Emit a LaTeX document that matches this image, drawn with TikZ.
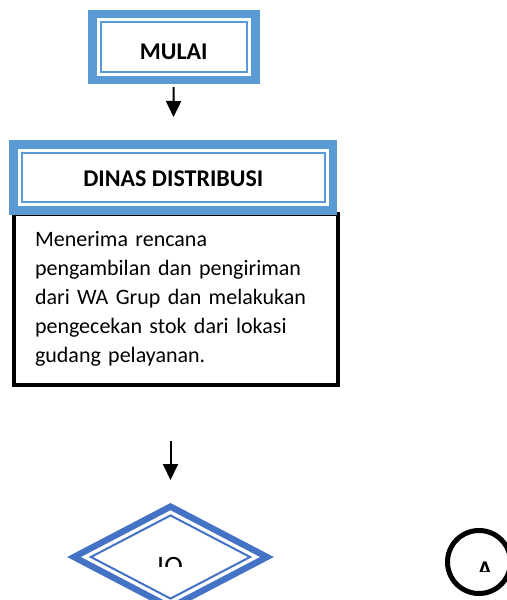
\documentclass[tikz,border=0pt]{standalone}
\usepackage{fontspec}
\setmainfont{Carlito}
\usetikzlibrary{arrows.meta,shapes.geometric,positioning}

\definecolor{boxblue}{HTML}{5B9BD5}
\definecolor{decblue}{HTML}{4472C4}

\begin{document}
\begin{tikzpicture}[x=0.5pt,y=-0.5pt,
    font=\fontsize{12}{14.5}\selectfont,
    judul/.style={fill=white, draw=boxblue, line width=1pt, inner sep=0pt,
        preaction={draw=boxblue, line width=12.5pt},
        preaction={draw=white, line width=4pt},
        font=\fontsize{12}{14.5}\selectfont\bfseries},
    isi/.style={draw=black, fill=white, line width=2pt, align=left,
        text width=141pt, inner xsep=10.5pt, inner ysep=0pt,
        minimum width=162pt, minimum height=85.25pt, anchor=north west,
        font=\fontsize{11}{14.5}\selectfont},
    keputusan/.style={diamond, fill=white, draw=decblue, line width=1pt, inner sep=0pt,
        minimum width=80pt, minimum height=42pt,
        preaction={draw=decblue, line width=11pt},
        preaction={draw=white, line width=4.5pt}},
    konektor/.style={circle, draw=black, line width=2.5pt, inner sep=0pt, minimum size=31.5pt},
    panah/.style={-{Triangle[width=7.5pt,length=8pt]}, line width=1pt}]
    \useasboundingbox (0,0) rectangle (507,600);
    \clip (0,0) rectangle (507,600);

    % kotak proses
    \node[isi] (isi) at (12,212) {Menerima rencana\\pengambilan dan pengiriman\\dari WA Grup dan melakukan\\pengecekan stok dari lokasi\\gudang pelayanan.};
    \node[judul, minimum width=73.25pt, minimum height=24.75pt, text height=12.7pt] (mulai) at (173.75,46.75) {MULAI};
    \node[judul, minimum width=151.35pt, minimum height=24.6pt, text height=9.3pt] (dinas) at (173.3,177.4) {DINAS DISTRIBUSI};

    % keputusan dan konektor
    \node[keputusan] (cek) at (170.5,557) {};
    \node[konektor] (hal) at (479,562) {};
    \begin{scope}
        \clip (0,0) rectangle (507,566);
        \node[anchor=base, font=\fontsize{14}{17}\selectfont] (cektxt) at (170,575) {IO};
    \end{scope}
    \begin{scope}
        \clip (0,0) rectangle (507,571);
        \node[anchor=base, font=\fontsize{12}{14.5}\selectfont\bfseries] (haltxt) at (485,577.5) {A};
    \end{scope}

    \draw[panah, shorten <=7.25pt, shorten >=17.4pt] (mulai) -- (dinas);
    \draw[panah, shorten <=27.25pt, shorten >=17pt] (isi.south -| cek.north) -- (cek.north);
\end{tikzpicture}
\end{document}
